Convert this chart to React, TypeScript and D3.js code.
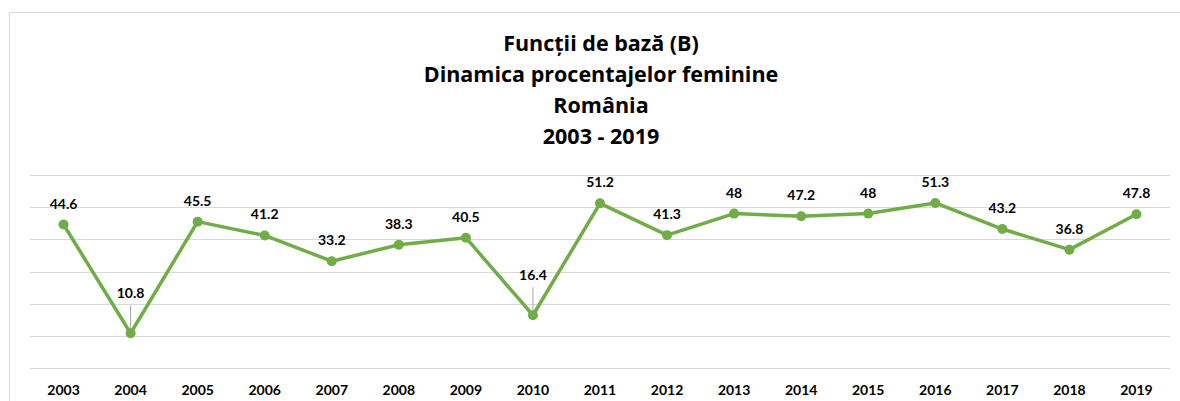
import { useEffect, useRef } from 'react';
import * as d3 from 'd3';

const years = ['2003', '2004', '2005', '2006', '2007', '2008', '2009', '2010', '2011', '2012', '2013', '2014', '2015', '2016', '2017', '2018', '2019'];
const values = [44.6, 10.8, 45.5, 41.2, 33.2, 38.3, 40.5, 16.4, 51.2, 41.3, 48, 47.2, 48, 51.3, 43.2, 36.8, 47.8];
const yTicks = [0, 10, 20, 30, 40, 50, 60];
const titleLines = ['Funcții de bază (B)', 'Dinamica procentajelor feminine', 'România', '2003 - 2019'];
// etichete împinse mai sus, cu linie de legătură
const leaderYears = ['2004', '2010'];

const W = 1180;
const H = 401;
const FONT = 'Lato, "Open Sans", sans-serif';
const TITLE_FONT = '"Open Sans", sans-serif';

const Chart = () => {
  const ref = useRef<SVGSVGElement | null>(null);

  useEffect(() => {
    if (!ref.current) return;
    const svg = d3.select(ref.current);
    svg.selectAll('*').remove();

    svg.append('rect').attr('width', W).attr('height', H).attr('fill', '#fff');
    // chenarul graficului
    svg
      .append('rect')
      .attr('x', 9.5)
      .attr('y', 12.5)
      .attr('width', W + 20)
      .attr('height', H + 20)
      .attr('fill', '#fff')
      .attr('stroke', '#d9d9d9');

    const x = d3.scaleBand().domain(years).range([30, 1170]);
    const y = d3.scaleLinear().domain([0, 60]).range([368, 175]);

    svg
      .append('g')
      .selectAll('line')
      .data(yTicks)
      .enter()
      .append('line')
      .attr('x1', 30)
      .attr('x2', 1170)
      .attr('y1', (d) => Math.round(y(d)) + 0.5)
      .attr('y2', (d) => Math.round(y(d)) + 0.5)
      .attr('stroke', '#d9d9d9')
      .attr('stroke-width', 1);

    svg
      .append('g')
      .selectAll('text')
      .data(titleLines)
      .enter()
      .append('text')
      .attr('x', 601)
      .attr('y', (_d, i) => 51 + i * 31)
      .attr('text-anchor', 'middle')
      .attr('font-family', TITLE_FONT)
      .attr('font-weight', 'bold')
      .attr('font-size', 21.5)
      .attr('fill', '#000')
      .text((d) => d);

    const cx = (d: string) => x(d)! + x.bandwidth() / 2;

    svg
      .append('g')
      .selectAll('text')
      .data(years)
      .enter()
      .append('text')
      .attr('x', cx)
      .attr('y', 395)
      .attr('text-anchor', 'middle')
      .attr('font-family', FONT)
      .attr('font-weight', 'bold')
      .attr('font-size', 14)
      .attr('fill', '#000')
      .text((d) => d);

    const pts = years.map((yr, i) => ({ yr, v: values[i] }));

    const lead = svg.append('g');
    pts
      .filter((p) => leaderYears.includes(p.yr))
      .forEach((p) => {
        lead
          .append('line')
          .attr('x1', cx(p.yr))
          .attr('x2', cx(p.yr))
          .attr('y1', y(p.v) - 28)
          .attr('y2', y(p.v))
          .attr('stroke', '#a6a6a6')
          .attr('stroke-width', 1);
      });

    const line = d3
      .line<{ yr: string; v: number }>()
      .x((d) => cx(d.yr))
      .y((d) => y(d.v));

    svg
      .append('path')
      .datum(pts)
      .attr('d', line)
      .attr('fill', 'none')
      .attr('stroke', '#70ad47')
      .attr('stroke-width', 3.5)
      .attr('stroke-linejoin', 'round');

    svg
      .append('g')
      .selectAll('circle')
      .data(pts)
      .enter()
      .append('circle')
      .attr('cx', (d) => cx(d.yr))
      .attr('cy', (d) => y(d.v))
      .attr('r', 5)
      .attr('fill', '#70ad47');

    svg
      .append('g')
      .selectAll('text')
      .data(pts)
      .enter()
      .append('text')
      .attr('x', (d) => cx(d.yr))
      .attr('y', (d) => y(d.v) - (leaderYears.includes(d.yr) ? 35 : 16))
      .attr('text-anchor', 'middle')
      .attr('font-family', FONT)
      .attr('font-weight', 'bold')
      .attr('font-size', 14)
      .attr('fill', '#000')
      .text((d) => String(d.v));
  }, []);

  return <svg ref={ref} width={W} height={H} style={{ position: 'absolute', left: 0, top: 0 }} />;
};

export default function App() {
  return <Chart />;
}
